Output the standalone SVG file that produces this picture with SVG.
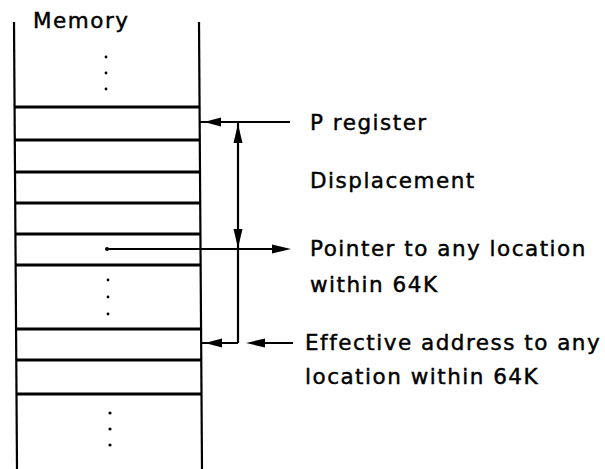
<svg xmlns="http://www.w3.org/2000/svg" width="605" height="469" viewBox="0 0 605 469">
<defs>
<style>
.t{font-family:"DejaVu Sans","Liberation Sans",sans-serif;font-size:21.5px;letter-spacing:1.5px;fill:#000;stroke:#000;stroke-width:0.45}
.w{stroke:#000;stroke-width:2.2;fill:none}
.m{stroke:#000;stroke-width:2.8;fill:none}
.a{stroke:#000;stroke-width:2.2;fill:none}
.d{fill:#000}
.h{fill:#000}
</style>
</defs>
<rect width="605" height="469" fill="#fff"/>
<g id="memory">
<line class="w" x1="14" y1="22" x2="17" y2="469"/>
<line class="w" x1="199" y1="22" x2="202" y2="469"/>
<text class="t" x="33" y="28">Memory</text>
<circle class="d" cx="106" cy="57" r="1.4"/>
<circle class="d" cx="106" cy="73" r="1.4"/>
<circle class="d" cx="106" cy="89" r="1.4"/>
<line class="m" x1="14" y1="107" x2="199" y2="107"/>
<line class="m" x1="14" y1="140" x2="199" y2="140"/>
<line class="m" x1="15" y1="172" x2="200" y2="172"/>
<line class="m" x1="15" y1="203" x2="200" y2="203"/>
<line class="m" x1="15" y1="234" x2="200" y2="234"/>
<line class="m" x1="16" y1="265" x2="201" y2="265"/>
<circle class="d" cx="108" cy="280" r="1.4"/>
<circle class="d" cx="108" cy="297" r="1.4"/>
<circle class="d" cx="108" cy="314" r="1.4"/>
<line class="m" x1="16" y1="329" x2="201" y2="329"/>
<line class="m" x1="16" y1="360" x2="201" y2="360"/>
<line class="m" x1="17" y1="394" x2="202" y2="394"/>
<circle class="d" cx="110" cy="413" r="1.6"/>
<circle class="d" cx="110" cy="429" r="1.6"/>
<circle class="d" cx="110" cy="445" r="1.6"/>
</g>
<g id="labels">
<text class="t" x="310" y="130">P register</text>
<text class="t" x="310" y="188">Displacement</text>
<text class="t" x="310" y="256">Pointer to any location</text>
<text class="t" x="310" y="292">within 64K</text>
<text class="t" x="305" y="350">Effective address to any</text>
<text class="t" x="305" y="384">location within 64K</text>
</g>
<g id="connectors">
<line class="a" x1="290" y1="122" x2="200" y2="122"/>
<polygon class="h" points="204,122 221,117.5 221,126.5"/>
<line class="a" x1="238" y1="122" x2="238" y2="343"/>
<polygon class="h" points="238,124 233.5,143 242.5,143"/>
<polygon class="h" points="238,248 233.5,229 242.5,229"/>
<line class="a" x1="238" y1="343" x2="201" y2="343"/>
<polygon class="h" points="205,343 222,338.5 222,347.5"/>
<circle class="d" cx="107" cy="249" r="2"/>
<line class="a" x1="107" y1="249" x2="280" y2="249"/>
<polygon class="h" points="291,249 272,244.5 272,253.5"/>
<line class="a" x1="293" y1="343" x2="255" y2="343"/>
<polygon class="h" points="246,343 265,338.5 265,347.5"/>
</g>
</svg>
